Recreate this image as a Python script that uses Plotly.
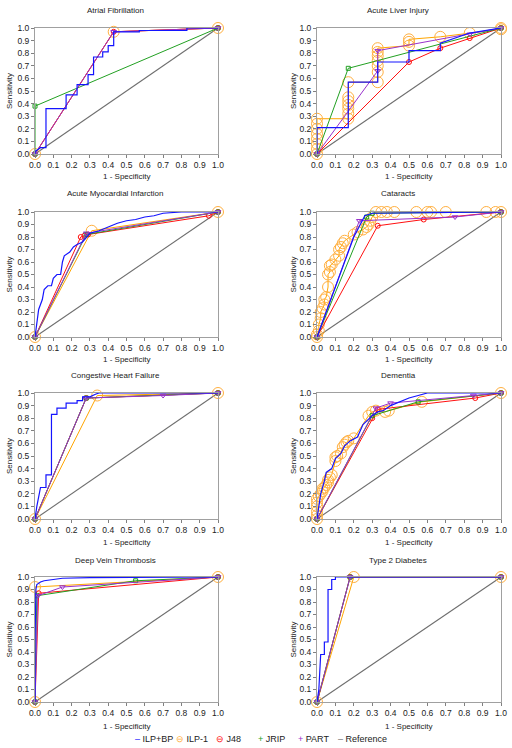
import plotly.graph_objects as go

PANELS = ["Atrial Fibrillation", "Acute Liver Injury", "Acute Myocardial Infarction", "Cataracts",
          "Congestive Heart Failure", "Dementia", "Deep Vein Thrombosis", "Type 2 Diabetes"]
SERIES = ["ILP+BP", "ILP-1", "J48", "JRIP", "PART", "Reference"]
TICK_VALS = [0.0, 0.1, 0.2, 0.3, 0.4, 0.5, 0.6, 0.7, 0.8, 0.9, 1.0]
TICK_TEXT = ["0.0", "0.1", "0.2", "0.3", "0.4", "0.5", "0.6", "0.7", "0.8", "0.9", "1.0"]
X_TITLE = "1 - Specificity"
Y_TITLE = "Sensitivity"

REF = [(0, 0), (1, 1)]

# ---- Atrial Fibrillation
AF_ILPBP = [(0, 0), (0, 0.02), (0.03, 0.05), (0.06, 0.05), (0.06, 0.36), (0.17, 0.36), (0.17, 0.47), (0.23, 0.47),
            (0.23, 0.55), (0.29, 0.55), (0.29, 0.63), (0.32, 0.63), (0.32, 0.77), (0.37, 0.77), (0.37, 0.81),
            (0.40, 0.81), (0.40, 0.86), (0.43, 0.86), (0.43, 0.97), (0.57, 0.97), (0.57, 0.98), (0.83, 0.98),
            (0.83, 1.0), (1, 1)]
AF_ILP1 = [(0, 0), (0.43, 0.97), (1, 1)]
AF_J48 = [(0, 0), (0.43, 0.97), (1, 1)]
AF_JRIP = [(0, 0), (0, 0.38), (1, 1)]
AF_PART = [(0, 0), (0.43, 0.97), (1, 1)]

# ---- Acute Liver Injury
ALI_ILPBP = [(0, 0), (0, 0.21), (0.17, 0.21), (0.17, 0.57), (0.33, 0.57), (0.33, 0.73), (0.5, 0.73), (0.5, 0.82),
             (0.67, 0.82), (0.67, 0.88), (0.83, 0.96), (1, 1)]
ALI_ILP1 = [(0, 0), (0, 0.04), (0, 0.08), (0, 0.12), (0, 0.16), (0, 0.2), (0, 0.24), (0, 0.28), (0.17, 0.28),
            (0.17, 0.32), (0.17, 0.36), (0.17, 0.39), (0.17, 0.42), (0.17, 0.45), (0.17, 0.57), (0.33, 0.57),
            (0.33, 0.65), (0.33, 0.7), (0.33, 0.74), (0.33, 0.78), (0.33, 0.81), (0.33, 0.84), (0.5, 0.86),
            (0.5, 0.89), (0.5, 0.91), (0.67, 0.93), (0.83, 0.96), (1, 0.99), (1, 1)]
ALI_J48 = [(0, 0), (0.5, 0.73), (0.67, 0.84), (0.83, 0.92), (1, 1)]
ALI_JRIP = [(0, 0), (0.17, 0.68), (1, 1)]
ALI_PART = [(0, 0), (0.33, 0.66), (0.33, 0.82), (0.83, 0.95), (1, 1)]

# ---- Acute Myocardial Infarction
AMI_ILPBP = [(0, 0), (0.01, 0.1), (0.02, 0.22), (0.04, 0.3), (0.05, 0.38), (0.07, 0.41), (0.09, 0.41),
             (0.1, 0.47), (0.12, 0.5), (0.14, 0.5), (0.15, 0.6), (0.16, 0.65), (0.19, 0.68), (0.21, 0.72),
             (0.23, 0.74), (0.26, 0.76), (0.28, 0.8), (0.3, 0.83), (0.35, 0.85), (0.4, 0.88), (0.45, 0.91),
             (0.5, 0.93), (0.55, 0.94), (0.6, 0.96), (0.65, 0.97), (0.7, 0.99), (0.8, 1.0), (1, 1)]
AMI_ILP1 = [(0, 0), (0.31, 0.85), (1, 1)]
AMI_J48 = [(0, 0), (0.25, 0.80), (0.27, 0.81), (0.29, 0.82), (0.95, 0.97), (1, 1)]
AMI_JRIP = [(0, 0), (0.28, 0.82), (1, 1)]
AMI_PART = [(0, 0), (0.28, 0.83), (1, 1)]

# ---- Cataracts
CAT_ILPBP = [(0, 0), (0.2, 0.8), (0.26, 0.97), (0.3, 0.99), (1, 1)]
CAT_ILP1 = [(0, 0), (0, 0.02), (0.01, 0.05), (0.01, 0.1), (0.02, 0.15), (0.02, 0.2), (0.03, 0.23), (0.04, 0.26),
            (0.04, 0.3), (0.05, 0.32), (0.06, 0.4), (0.06, 0.5), (0.07, 0.52), (0.07, 0.57), (0.08, 0.58),
            (0.1, 0.62), (0.12, 0.65), (0.12, 0.7), (0.13, 0.72), (0.14, 0.75), (0.15, 0.77), (0.2, 0.82),
            (0.22, 0.84), (0.25, 0.86), (0.27, 0.88), (0.28, 0.9), (0.29, 0.93), (0.3, 0.96), (0.32, 1.0),
            (0.35, 1.0), (0.38, 1.0), (0.42, 1.0), (0.54, 1.0), (0.6, 1.0), (0.62, 1.0), (0.7, 1.0),
            (0.92, 1.0), (0.97, 1.0), (1, 1)]
CAT_J48 = [(0, 0), (0.33, 0.89), (0.58, 0.94), (1, 1)]
CAT_JRIP = [(0, 0), (0.27, 0.96), (0.3, 0.99), (1, 1)]
CAT_PART = [(0, 0), (0.23, 0.93), (0.75, 0.96), (1, 1)]

# ---- Congestive Heart Failure
CHF_ILPBP = [(0, 0), (0.01, 0.1), (0.03, 0.25), (0.06, 0.25), (0.06, 0.35), (0.09, 0.35), (0.09, 0.83),
             (0.12, 0.83), (0.12, 0.88), (0.17, 0.88), (0.17, 0.92), (0.23, 0.92), (0.23, 0.94), (0.26, 0.94),
             (0.26, 0.97), (0.3, 0.97), (0.33, 0.99), (0.35, 1.0), (1, 1)]
CHF_ILP1 = [(0, 0), (0.34, 0.98), (1, 1)]
CHF_J48 = [(0, 0), (0.28, 0.96), (1, 1)]
CHF_JRIP = [(0, 0), (0.28, 0.96), (1, 1)]
CHF_PART = [(0, 0), (0.28, 0.96), (0.7, 0.98), (1, 1)]

# ---- Dementia
DEM_ILPBP = [(0, 0), (0.01, 0.1), (0.02, 0.2), (0.04, 0.3), (0.05, 0.37), (0.08, 0.4), (0.1, 0.48),
             (0.13, 0.52), (0.15, 0.58), (0.18, 0.62), (0.22, 0.65), (0.25, 0.75), (0.28, 0.79), (0.3, 0.82),
             (0.33, 0.85), (0.36, 0.86), (0.4, 0.9), (0.45, 0.93), (0.5, 0.96), (0.55, 0.98), (0.6, 1.0), (1, 1)]
DEM_ILP1 = [(0, 0), (0, 0.03), (0, 0.06), (0, 0.1), (0, 0.13), (0, 0.16), (0.01, 0.18), (0.02, 0.2),
            (0.03, 0.22), (0.03, 0.24), (0.04, 0.25), (0.05, 0.27), (0.06, 0.29), (0.06, 0.31), (0.07, 0.33),
            (0.08, 0.35), (0.1, 0.46), (0.1, 0.49), (0.11, 0.5), (0.13, 0.52), (0.14, 0.57), (0.15, 0.59),
            (0.16, 0.61), (0.17, 0.62), (0.2, 0.64), (0.28, 0.82), (0.3, 0.85), (0.32, 0.86), (0.37, 0.85),
            (0.39, 0.86), (0.57, 0.93), (1, 1)]
DEM_J48 = [(0, 0), (0.3, 0.8), (0.33, 0.87), (0.86, 0.96), (1, 1)]
DEM_JRIP = [(0, 0), (0.3, 0.82), (0.55, 0.93), (1, 1)]
DEM_PART = [(0, 0), (0.32, 0.88), (0.4, 0.92), (0.85, 0.98), (1, 1)]

# ---- Deep Vein Thrombosis
DVT_ILPBP = [(0, 0), (0, 0.47), (0.005, 0.9), (0.01, 0.94), (0.03, 0.96), (0.05, 0.97), (0.1, 0.98),
             (0.15, 0.99), (0.3, 0.995), (1, 1)]
DVT_ILP1 = [(0, 0), (0, 0.92), (1, 1)]
DVT_J48 = [(0, 0), (0.02, 0.87), (1, 1)]
DVT_JRIP = [(0, 0), (0.01, 0.85), (0.55, 0.97), (1, 1)]
DVT_PART = [(0, 0), (0.015, 0.85), (0.15, 0.92), (1, 1)]

# ---- Type 2 Diabetes
T2D_ILPBP = [(0, 0), (0.01, 0.1), (0.02, 0.38), (0.04, 0.38), (0.04, 0.48), (0.06, 0.48), (0.06, 0.9),
             (0.08, 0.9), (0.08, 0.98), (0.1, 0.98), (0.1, 1.0), (0.12, 1.0), (1, 1)]
T2D_ILP1 = [(0, 0), (0.2, 1.0), (1, 1)]
T2D_J48 = [(0, 0), (0.18, 1.0), (1, 1)]
T2D_JRIP = [(0, 0), (0.18, 1.0), (1, 1)]
T2D_PART = [(0, 0), (0.18, 1.0), (1, 1)]

PANEL_DATA = [
    [AF_ILPBP, AF_ILP1, AF_J48, AF_JRIP, AF_PART, REF],
    [ALI_ILPBP, ALI_ILP1, ALI_J48, ALI_JRIP, ALI_PART, REF],
    [AMI_ILPBP, AMI_ILP1, AMI_J48, AMI_JRIP, AMI_PART, REF],
    [CAT_ILPBP, CAT_ILP1, CAT_J48, CAT_JRIP, CAT_PART, REF],
    [CHF_ILPBP, CHF_ILP1, CHF_J48, CHF_JRIP, CHF_PART, REF],
    [DEM_ILPBP, DEM_ILP1, DEM_J48, DEM_JRIP, DEM_PART, REF],
    [DVT_ILPBP, DVT_ILP1, DVT_J48, DVT_JRIP, DVT_PART, REF],
    [T2D_ILPBP, T2D_ILP1, T2D_J48, T2D_JRIP, T2D_PART, REF],
]

# ---------------- styling ----------------
W, H = 512, 748
FONT = "Arial, Liberation Sans, sans-serif"
COLORS = {"ILP+BP": "#1414FF", "ILP-1": "#FFA500", "J48": "#FF1010", "JRIP": "#22A022",
          "PART": "#9932CC", "Reference": "#6E6E6E"}
STYLE = {
    "ILP+BP": dict(mode="lines", line=dict(color=COLORS["ILP+BP"], width=1.2)),
    "ILP-1": dict(mode="lines+markers", line=dict(color=COLORS["ILP-1"], width=1),
                  marker=dict(symbol="circle-open", size=11, color="#FFB040", line=dict(width=1))),
    "J48": dict(mode="lines+markers", line=dict(color=COLORS["J48"], width=1),
                marker=dict(symbol="circle-open", size=5, color=COLORS["J48"], line=dict(width=1))),
    "JRIP": dict(mode="lines+markers", line=dict(color=COLORS["JRIP"], width=1),
                 marker=dict(symbol="square-open", size=4, color=COLORS["JRIP"], line=dict(width=1))),
    "PART": dict(mode="lines+markers", line=dict(color=COLORS["PART"], width=1),
                 marker=dict(symbol="triangle-down-open", size=5, color=COLORS["PART"], line=dict(width=1))),
    "Reference": dict(mode="lines", line=dict(color=COLORS["Reference"], width=1.1)),
}
DRAW_ORDER = [5, 1, 2, 3, 4, 0]

COL_PX = [(35, 218), (317, 501)]
ROW_PX = [(28, 154), (212, 337), (393, 519), (577, 702)]
TITLE_Y = [10, 193, 375, 560]
XTITLE_Y = [177, 360, 542, 726]
YTITLE_X = [9, 293]

# legend (drawn as text: coloured key glyph + label)
LEGEND_KEYS = ["\u2013", "\u2296", "\u2296", "+", "+", "\u2013"]
LEGEND_X = [133, 174, 214, 256, 296, 336]
LEGEND_Y = 739

fig = go.Figure()
layout = dict(width=W, height=H, margin=dict(l=0, r=0, t=0, b=0, autoexpand=False),
              paper_bgcolor="white", plot_bgcolor="white",
              font=dict(family=FONT, size=8, color="#222222"),
              showlegend=False)
annotations = []

for p, name in enumerate(PANELS):
    r, c = divmod(p, 2)
    idx = p + 1
    xa = "x" if idx == 1 else f"x{idx}"
    ya = "y" if idx == 1 else f"y{idx}"
    x0, x1 = COL_PX[c]
    yt, yb = ROW_PX[r]
    axis_common = dict(range=[0, 1.0], tickmode="array", tickvals=TICK_VALS, ticktext=TICK_TEXT,
                       showgrid=False, zeroline=False, showline=True, mirror=True,
                       linecolor="#A0A0A0", linewidth=1, ticks="outside", ticklen=3,
                       tickcolor="#808080", tickfont=dict(size=8.5, color="#222222", family=FONT),
                       fixedrange=True, automargin=False)
    layout["xaxis" if idx == 1 else f"xaxis{idx}"] = dict(axis_common, domain=[x0 / W, x1 / W],
                                                           anchor=ya)
    layout["yaxis" if idx == 1 else f"yaxis{idx}"] = dict(axis_common, domain=[1 - yb / H, 1 - yt / H],
                                                           anchor=xa)
    cx = (x0 + x1) / 2
    annotations.append(dict(text=name, x=(cx - 11) / W, y=1 - TITLE_Y[r] / H, xref="paper", yref="paper",
                            showarrow=False, xanchor="center", yanchor="middle", font=dict(size=8)))
    annotations.append(dict(text=X_TITLE, x=cx / W, y=1 - XTITLE_Y[r] / H, xref="paper", yref="paper",
                            showarrow=False, xanchor="center", yanchor="middle", font=dict(size=8)))
    annotations.append(dict(text=Y_TITLE, x=YTITLE_X[c] / W, y=1 - ((yt + yb) / 2) / H, xref="paper",
                            yref="paper", showarrow=False, xanchor="center", yanchor="middle",
                            textangle=-90, font=dict(size=8)))
    for s in DRAW_ORDER:
        sname = SERIES[s]
        pts = PANEL_DATA[p][s]
        fig.add_trace(go.Scatter(x=[q[0] for q in pts], y=[q[1] for q in pts], name=sname,
                                 xaxis=xa, yaxis=ya, cliponaxis=False, hoverinfo="skip", **STYLE[sname]))

for s, sname in enumerate(SERIES):
    key_col = "#FFB040" if sname == "ILP-1" else COLORS[sname]
    annotations.append(dict(text=f"<span style='color:{key_col}'>{LEGEND_KEYS[s]}</span> {sname}",
                            x=LEGEND_X[s] / W, y=1 - LEGEND_Y / H, xref="paper", yref="paper",
                            showarrow=False, xanchor="left", yanchor="middle",
                            font=dict(size=9, color="#222222")))

layout["annotations"] = annotations
fig.update_layout(**layout)
fig.write_html("out.html", config={"displayModeBar": False, "staticPlot": True},
               post_script="document.body.style.margin='0px';document.body.style.padding='0px';")
